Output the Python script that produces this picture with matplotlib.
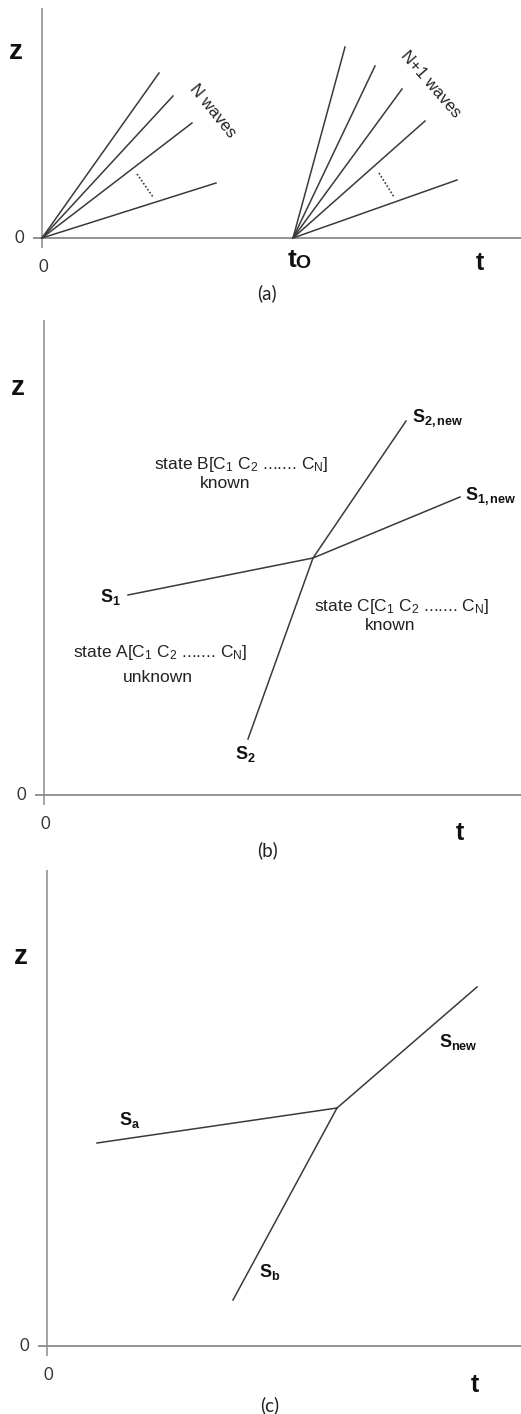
import matplotlib.pyplot as plt
import numpy as np

# schematic wave diagrams (pixel offsets from each origin, z upwards)

FIG_W, FIG_H = 521, 1414

# panel (a): two fans of waves
fan1_origin = (0, 0)
fan1_t_end = [117, 131, 150, 174]
fan1_z_end = [165, 142, 115, 55]
fan1_dots_t = [95, 111]
fan1_dots_z = [64, 41]

fan2_origin = (251, 0)
fan2_t_end = [303, 333, 360, 383, 415]
fan2_z_end = [191, 172, 149, 117, 58]
fan2_dots_t = [337, 352]
fan2_dots_z = [65, 41]

# panel (b): two crossing shocks
s1_t = [84, 269, 416]
s1_z = [200, 237, 298]
s2_t = [204, 269, 362]
s2_z = [56, 237, 374]

# panel (c): two shocks merging into one
sa_t = [50, 290]
sa_z = [203, 238]
sb_t = [186, 290]
sb_z = [46, 238]
snew_t = [290, 430]
snew_z = [238, 359]

LINE = '#3a3a3a'
AXIS = '#8a8a8a'

plt.rcParams['font.family'] = ['Liberation Sans', 'DejaVu Sans']
plt.rcParams['mathtext.fontset'] = 'custom'
plt.rcParams['mathtext.rm'] = 'Liberation Sans'
plt.rcParams['mathtext.bf'] = 'Liberation Sans:bold'
plt.rcParams['mathtext.it'] = 'Liberation Sans:italic'


def makePanel(fig, top: int, bottom: int, ox: int, oy: int) -> plt.Axes:
	# axes covering a horizontal band, 1 data unit = 1 pixel, origin at (ox, oy)
	ax = fig.add_axes([0, 1 - bottom / FIG_H, 1, (bottom - top) / FIG_H])
	ax.set_xlim(-ox, FIG_W - ox)
	ax.set_ylim(-(bottom - oy), oy - top)
	ax.axis('off')
	return ax


def drawAxes(ax: plt.Axes, z_top: float, t_right: float, z_label: float, t_label: tuple,
		cap: str, cap_pos: tuple) -> None:
	ax.plot([0, 0], [-10, z_top], color=AXIS, lw=1.1, solid_capstyle='butt')
	ax.plot([-9, t_right], [0, 0], color=AXIS, lw=1.3, solid_capstyle='butt')
	ax.text(-26, z_label, 'z', fontsize=20, fontweight='bold', ha='center', va='center', color='#111')
	ax.text(-23, 0, '0', fontsize=12, family='Lato', ha='center', va='center', color='#333')
	ax.text(1, -29, '0', fontsize=12, family='Lato', ha='center', va='center', color='#333')
	ax.text(t_label[0], t_label[1], 't', fontsize=18, fontweight='bold', ha='center', va='center', color='#111')
	ax.text(cap_pos[0], cap_pos[1], cap, fontsize=13.5, family='Lato', ha='center', va='center', color='#222')


def drawFan(ax: plt.Axes, origin: tuple, t_end: list, z_end: list) -> None:
	for t, z in zip(t_end, z_end):
		ax.plot([origin[0], t], [origin[1], z], color=LINE, lw=1.1)


def stateLabel(ax: plt.Axes, letter: str, x: float, y: float) -> None:
	ax.text(x, y, 'state ' + letter + r'[C$_1$ C$_2$ ....... C$_\mathrm{N}$]', fontsize=12.5,
		ha='center', va='center', color='#222')


fig = plt.figure(figsize=(FIG_W / 100, FIG_H / 100), dpi=100)

# (a)
ax = makePanel(fig, 0, 310, 42, 238)
drawAxes(ax, 230, 479, 186, (438, -25), '(a)', (225, -55))
drawFan(ax, fan1_origin, fan1_t_end, fan1_z_end)
drawFan(ax, fan2_origin, fan2_t_end, fan2_z_end)
ax.plot(fan1_dots_t, fan1_dots_z, color=LINE, lw=1.2, ls=(0, (1, 1.2)))
ax.plot(fan2_dots_t, fan2_dots_z, color=LINE, lw=1.2, ls=(0, (1, 1.2)))
ax.text(171, 127, 'N waves', fontsize=12, rotation=-51, ha='center', va='center', color='#222')
ax.text(389, 154, 'N+1 waves', fontsize=12, rotation=-49, ha='center', va='center', color='#222')
ax.text(254, -22, 't', fontsize=19, fontweight='bold', ha='right', va='center', color='#111')
ax.text(253, -26, 'O', fontsize=14, fontweight='bold', ha='left', va='center', color='#111')

# (b)
ax = makePanel(fig, 310, 870, 44, 795)
drawAxes(ax, 475, 477, 407, (416, -38), '(b)', (223, -55))
ax.plot(s1_t, s1_z, color=LINE, lw=1.1)
ax.plot(s2_t, s2_z, color=LINE, lw=1.1)
ax.text(66, 198, r'$\mathbf{S_{1}}$', fontsize=13, ha='center', va='center', color='#111')
ax.text(201, 41, r'$\mathbf{S_{2}}$', fontsize=13, ha='center', va='center', color='#111')
ax.text(368, 377, r'$\mathbf{S_{2,new}}$', fontsize=13, ha='left', va='center', color='#111')
ax.text(421, 299, r'$\mathbf{S_{1,new}}$', fontsize=13, ha='left', va='center', color='#111')
stateLabel(ax, 'B', 197, 330)
ax.text(181, 311, 'known', fontsize=12.5, ha='center', va='center', color='#222')
stateLabel(ax, 'C', 358, 188)
ax.text(346, 170, 'known', fontsize=12.5, ha='center', va='center', color='#222')
stateLabel(ax, 'A', 116, 142)
ax.text(114, 118, 'unknown', fontsize=12.5, ha='center', va='center', color='#222')

# (c)
ax = makePanel(fig, 870, 1414, 47, 1346)
drawAxes(ax, 477, 474, 389, (428, -39), '(c)', (223, -59))
ax.plot(sa_t, sa_z, color=LINE, lw=1.1)
ax.plot(sb_t, sb_z, color=LINE, lw=1.1)
ax.plot(snew_t, snew_z, color=LINE, lw=1.1)
ax.text(83, 226, r'$\mathbf{S_{a}}$', fontsize=13, ha='center', va='center', color='#111')
ax.text(223, 74, r'$\mathbf{S_{b}}$', fontsize=13, ha='center', va='center', color='#111')
ax.text(411, 304, r'$\mathbf{S_{new}}$', fontsize=13, ha='center', va='center', color='#111')

fig.savefig('out.png', dpi=100, facecolor='white')
